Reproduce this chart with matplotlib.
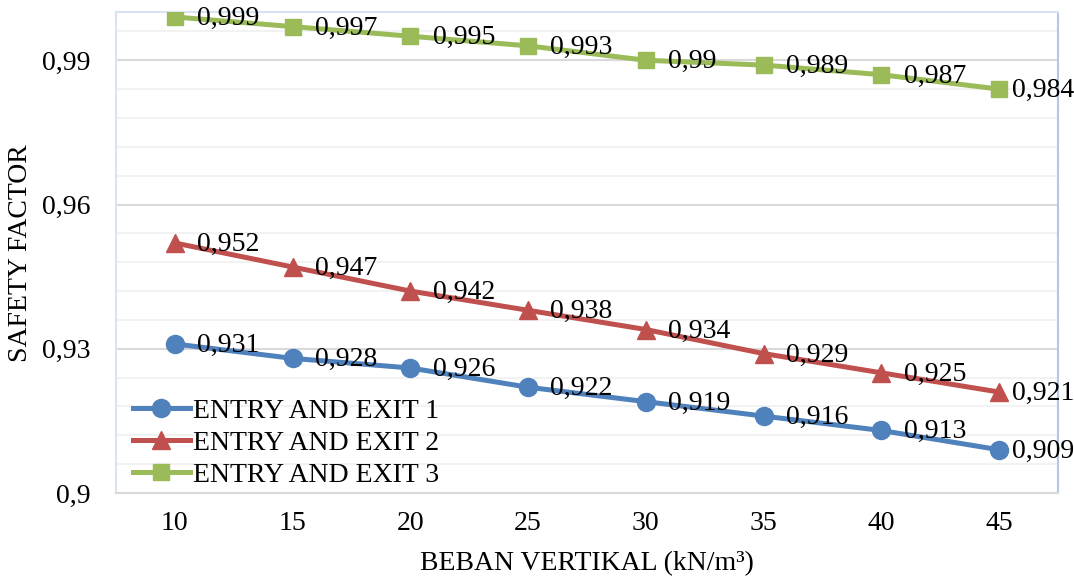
import matplotlib
matplotlib.use("Agg")
import matplotlib.pyplot as plt
from matplotlib.ticker import MultipleLocator, FuncFormatter

plt.rcParams['font.family'] = ['Liberation Serif', 'DejaVu Serif']

# data
beban = [10, 15, 20, 25, 30, 35, 40, 45]
sf_1 = [0.931, 0.928, 0.926, 0.922, 0.919, 0.916, 0.913, 0.909]
sf_2 = [0.952, 0.947, 0.942, 0.938, 0.934, 0.929, 0.925, 0.921]
sf_3 = [0.999, 0.997, 0.995, 0.993, 0.990, 0.989, 0.987, 0.984]
names = ['ENTRY AND EXIT 1', 'ENTRY AND EXIT 2', 'ENTRY AND EXIT 3']

series = [
    (sf_1, '#4f81bd', 'o', 13),
    (sf_2, '#c0504d', '^', 13),
    (sf_3, '#9bbb59', 's', 12),
]

FS = 20

def koma(v, pos=None):
    s = ('%.3f' % v).rstrip('0').rstrip('.')
    return s.replace('.', ',')

fig = plt.figure(figsize=(10.74, 5.80), dpi=100)
ax = fig.add_axes([0.108, 0.15, 0.877, 0.829])

x = list(range(len(beban)))
for (vals, col, mk, ms), nm in zip(series, names):
    ax.plot(x, vals, color=col, lw=3.6, marker=mk, ms=ms, label=nm, zorder=3)
    for i, v in enumerate(vals):
        dx = 9 if i == len(vals) - 1 else 16
        ax.annotate(koma(v), (i, v), xytext=(dx, -1), textcoords='offset points',
                    ha='left', va='center', fontsize=FS, color='#000000', zorder=4)

ax.set_xlim(-0.5, len(beban) - 0.5)
ax.set_ylim(0.9, 1.0)
ax.set_xticks(x)
ax.set_xticklabels([str(b) for b in beban])
ax.yaxis.set_major_locator(MultipleLocator(0.03))
ax.yaxis.set_minor_locator(MultipleLocator(0.006))
ax.yaxis.set_major_formatter(FuncFormatter(koma))

ax.grid(True, which='major', axis='y', color='#d9d9d9', lw=1.5, zorder=0)
ax.grid(True, which='minor', axis='y', color='#f2f2f2', lw=1.5, zorder=0)
ax.set_axisbelow(True)

ax.tick_params(axis='both', which='both', length=0, labelsize=FS)
ax.tick_params(axis='y', pad=18)
ax.tick_params(axis='x', pad=13)

for side in ['left', 'right', 'top']:
    ax.spines[side].set_color('#dae3f3')
    ax.spines[side].set_linewidth(1.5)
ax.spines['right'].set_color('#b4c7e7')
ax.spines['bottom'].set_color('#d9d9d9')
ax.spines['bottom'].set_linewidth(1.5)

ax.set_xlabel('BEBAN VERTIKAL (kN/m³)', fontsize=FS)
ax.set_ylabel('SAFETY FACTOR', fontsize=FS)
ax.xaxis.set_label_coords(0.5, -0.12)
ax.yaxis.set_label_coords(-0.088, 0.5)

ax.legend(loc='lower left', bbox_to_anchor=(0.018, 0.01), frameon=False, fontsize=FS,
          handlelength=2.05, handletextpad=0.12, labelspacing=0.24,
          borderpad=0, borderaxespad=0)

fig.savefig('out.png', dpi=100)
